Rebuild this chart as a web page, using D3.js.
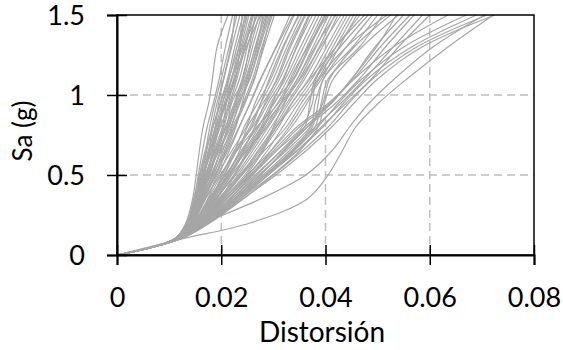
<!DOCTYPE html>
<html><head><meta charset="utf-8">
<script src="https://cdn.jsdelivr.net/npm/d3@7"></script>
<style>
html,body{margin:0;padding:0;background:#fff;}
svg{display:block;font-family:Lato,"Open Sans",sans-serif;}
</style></head>
<body><svg id="c" width="563" height="350"></svg>
<script>
// Sa levels (g) at which every IDA curve is sampled
const saLevels = [0, 0.1, 0.2, 0.35, 0.5, 0.65, 0.8, 0.95, 1.1, 1.3, 1.5];
// Drift values of each curve at the Sa levels above (first value 0 at Sa 0)
const curves = [
 [0,.0110,.0132,.0145,.0152,.0158,.0165,.0176,.0183,.0192,.0213],
 [0,.0110,.0135,.0148,.0156,.0164,.0173,.0185,.0196,.0208,.0222],
 [0,.0111,.0134,.0150,.0162,.0170,.0178,.0188,.0200,.0215,.0230],
 [0,.0110,.0136,.0152,.0160,.0175,.0188,.0195,.0205,.0220,.0236],
 [0,.0112,.0138,.0155,.0168,.0176,.0184,.0198,.0212,.0226,.0242],
 [0,.0111,.0135,.0151,.0165,.0180,.0195,.0203,.0215,.0230,.0248],
 [0,.0110,.0137,.0156,.0172,.0183,.0190,.0208,.0224,.0238,.0253],
 [0,.0112,.0140,.0159,.0170,.0186,.0202,.0210,.0220,.0240,.0258],
 [0,.0111,.0139,.0154,.0166,.0182,.0198,.0216,.0230,.0246,.0262],
 [0,.0110,.0136,.0158,.0175,.0190,.0205,.0218,.0235,.0250,.0268],
 [0,.0112,.0141,.0162,.0178,.0193,.0209,.0225,.0240,.0256,.0273],
 [0,.0111,.0138,.0153,.0169,.0188,.0210,.0220,.0243,.0260,.0278],
 [0,.0110,.0142,.0164,.0183,.0198,.0214,.0230,.0248,.0265,.0283],
 [0,.0113,.0140,.0160,.0174,.0196,.0218,.0236,.0250,.0270,.0288],
 [0,.0111,.0143,.0166,.0186,.0203,.0220,.0234,.0255,.0274,.0293],
 [0,.0112,.0139,.0157,.0180,.0200,.0225,.0242,.0260,.0278,.0298],
 [0,.0110,.0144,.0168,.0189,.0208,.0226,.0246,.0263,.0282,.0302],
 [0,.0112,.0141,.0163,.0182,.0199,.0212,.0228,.0242,.0254,.0265],
 [0,.0111,.0137,.0150,.0159,.0172,.0182,.0192,.0204,.0218,.0226],
 [0,.0113,.0142,.0165,.0190,.0210,.0228,.0240,.0252,.0268,.0280],
 [0,.0111,.0139,.0156,.0174,.0185,.0196,.0206,.0220,.0242,.0270],
 [0,.0110,.0138,.0152,.0163,.0178,.0192,.0209,.0228,.0236,.0245],
 [0,.0110,.0135,.0150,.0166,.0179,.0194,.0210,.0226,.0244,.0260],
 [0,.0111,.0137,.0154,.0170,.0188,.0208,.0226,.0246,.0266,.0286],
 [0,.0112,.0140,.0160,.0177,.0192,.0204,.0214,.0226,.0248,.0276],
 [0,.0110,.0134,.0147,.0158,.0169,.0184,.0199,.0214,.0234,.0250],
 [0,.0111,.0138,.0156,.0173,.0194,.0215,.0232,.0254,.0272,.0290],
 [0,.0112,.0141,.0161,.0184,.0206,.0222,.0244,.0264,.0280,.0295],
 [0,.0111,.0136,.0153,.0164,.0176,.0189,.0202,.0219,.0234,.0240],
 [0,.0113,.0143,.0166,.0188,.0212,.0234,.0256,.0276,.0306,.0338],
 [0,.0113,.0145,.0170,.0195,.0215,.0235,.0255,.0275,.0305,.0332],
 [0,.0112,.0146,.0174,.0192,.0220,.0248,.0265,.0286,.0312,.0340],
 [0,.0114,.0148,.0178,.0205,.0226,.0244,.0270,.0295,.0320,.0348],
 [0,.0112,.0144,.0169,.0198,.0228,.0255,.0276,.0300,.0326,.0355],
 [0,.0113,.0150,.0182,.0210,.0235,.0250,.0280,.0308,.0333,.0362],
 [0,.0114,.0152,.0180,.0202,.0224,.0260,.0286,.0312,.0340,.0368],
 [0,.0112,.0147,.0176,.0208,.0240,.0265,.0290,.0318,.0345,.0375],
 [0,.0115,.0154,.0186,.0216,.0244,.0272,.0295,.0323,.0352,.0382],
 [0,.0113,.0149,.0183,.0212,.0238,.0270,.0302,.0328,.0358,.0388],
 [0,.0114,.0153,.0190,.0224,.0250,.0278,.0308,.0335,.0364,.0394],
 [0,.0112,.0148,.0175,.0200,.0230,.0268,.0310,.0340,.0370,.0400],
 [0,.0115,.0156,.0192,.0220,.0256,.0285,.0314,.0346,.0376,.0406],
 [0,.0113,.0151,.0188,.0228,.0260,.0290,.0320,.0350,.0382,.0412],
 [0,.0114,.0155,.0196,.0232,.0265,.0296,.0326,.0356,.0388,.0418],
 [0,.0116,.0160,.0200,.0238,.0270,.0302,.0330,.0360,.0394,.0424],
 [0,.0113,.0152,.0190,.0225,.0254,.0280,.0316,.0352,.0390,.0430],
 [0,.0115,.0158,.0204,.0245,.0278,.0310,.0336,.0368,.0402,.0436],
 [0,.0114,.0154,.0194,.0235,.0272,.0305,.0342,.0374,.0408,.0442],
 [0,.0116,.0162,.0210,.0252,.0288,.0318,.0348,.0380,.0414,.0448],
 [0,.0115,.0159,.0202,.0240,.0282,.0325,.0354,.0386,.0420,.0454],
 [0,.0117,.0165,.0216,.0260,.0295,.0330,.0360,.0392,.0426,.0460],
 [0,.0114,.0156,.0198,.0238,.0275,.0306,.0335,.0370,.0420,.0466],
 [0,.0113,.0150,.0185,.0214,.0242,.0264,.0284,.0306,.0330,.0360],
 [0,.0114,.0153,.0189,.0218,.0246,.0276,.0298,.0320,.0344,.0370],
 [0,.0115,.0157,.0198,.0226,.0252,.0282,.0300,.0338,.0368,.0398],
 [0,.0113,.0151,.0181,.0206,.0229,.0258,.0276,.0292,.0318,.0350],
 [0,.0116,.0161,.0206,.0248,.0280,.0300,.0322,.0346,.0380,.0420],
 [0,.0112,.0149,.0179,.0214,.0248,.0288,.0315,.0332,.0366,.0404],
 [0,.0118,.0165,.0215,.0265,.0315,.0360,.0370,.0380,.0420,.0475],
 [0,.0119,.0168,.0225,.0280,.0330,.0372,.0380,.0396,.0440,.0490],
 [0,.0117,.0162,.0210,.0258,.0305,.0355,.0375,.0382,.0428,.0482],
 [0,.0120,.0172,.0230,.0290,.0340,.0380,.0392,.0405,.0465,.0510],
 [0,.0118,.0166,.0220,.0272,.0324,.0370,.0395,.0408,.0455,.0525],
 [0,.0120,.0175,.0236,.0298,.0350,.0386,.0398,.0415,.0470,.0540],
 [0,.0119,.0170,.0228,.0284,.0335,.0375,.0386,.0396,.0452,.0500],
 [0,.0117,.0160,.0205,.0250,.0295,.0335,.0365,.0388,.0440,.0518],
 [0,.0118,.0166,.0215,.0260,.0305,.0350,.0410,.0450,.0495,.0550],
 [0,.0119,.0170,.0224,.0275,.0320,.0365,.0420,.0465,.0515,.0570],
 [0,.0120,.0174,.0230,.0285,.0335,.0380,.0430,.0475,.0530,.0586],
 [0,.0117,.0164,.0210,.0255,.0300,.0345,.0406,.0454,.0505,.0562],
 [0,.0120,.0176,.0235,.0290,.0345,.0392,.0440,.0488,.0540,.0600],
 [0,.0118,.0168,.0220,.0268,.0314,.0360,.0412,.0450,.0498,.0536],
 [0,.0120,.0170,.0225,.0275,.0320,.0365,.0410,.0455,.0530,.0635],
 [0,.0121,.0174,.0235,.0290,.0338,.0385,.0425,.0470,.0550,.0670],
 [0,.0120,.0172,.0230,.0285,.0345,.0395,.0435,.0480,.0565,.0690],
 [0,.0122,.0178,.0242,.0300,.0355,.0405,.0445,.0490,.0575,.0710],
 [0,.0121,.0176,.0240,.0305,.0362,.0412,.0455,.0500,.0585,.0725],
 [0,.0124,.0255,.0365,.0405,.0432,.0458,.0502,.0556,.0635,.0722],
 [0,.0120,.0170,.0275,.0362,.0412,.0446,.0484,.0532,.0606,.0705]
];
const xTicks = [0, 0.02, 0.04, 0.06, 0.08];
const yTicks = [0, 0.5, 1, 1.5];
const xTickLabels = ["0", "0.02", "0.04", "0.06", "0.08"];
const yTickLabels = ["0", "0.5", "1", "1.5"];
const xTitle = "Distorsión";
const yTitle = "Sa (g)";

const svg = d3.select("#c");
const L = 117, R = 534, T = 15, B = 255;
const x = d3.scaleLinear().domain([0, 0.08]).range([L, R]);
const y = d3.scaleLinear().domain([0, 1.5]).range([B, T]);

// grid
const g = svg.append("g");
g.selectAll(".gx").data(xTicks.filter(d => d > 0 && d < 0.08)).join("line")
  .attr("x1", d => x(d)).attr("x2", d => x(d)).attr("y1", T).attr("y2", B)
  .attr("stroke", "#bfbfbf").attr("stroke-width", 1.5).attr("stroke-dasharray", "8,5");
g.selectAll(".gy").data(yTicks.filter(d => d > 0 && d < 1.5)).join("line")
  .attr("x1", L).attr("x2", R).attr("y1", d => y(d)).attr("y2", d => y(d))
  .attr("stroke", "#bfbfbf").attr("stroke-width", 1.5).attr("stroke-dasharray", "8,5");

// curves
const line = d3.line().x(d => x(d[0])).y(d => y(d[1])).curve(d3.curveCatmullRom.alpha(0.5));
svg.append("g").selectAll("path").data(curves).join("path")
  .attr("d", c => line(c.map((v, i) => [v, saLevels[i]])))
  .attr("fill", "none").attr("stroke", "#a6a6a6").attr("stroke-width", 1.2);

// frame
svg.append("rect").attr("x", L).attr("y", T).attr("width", R - L).attr("height", B - T)
  .attr("fill", "none").attr("stroke", "#000").attr("stroke-width", 1.5);

// axes
const xAxis = d3.axisBottom(x).tickValues(xTicks).tickSize(10).tickFormat((d, i) => xTickLabels[i]);
const xa = svg.append("g").attr("transform", `translate(0,${B})`).call(xAxis);
const yAxis = d3.axisLeft(y).tickValues(yTicks).tickSize(10).tickFormat((d, i) => yTickLabels[i]);
const ya = svg.append("g").attr("transform", `translate(${L},0)`).call(yAxis);
[xa, ya].forEach(a => {
  a.select(".domain").attr("stroke", "#000").attr("stroke-width", 2);
  a.selectAll(".tick line").attr("stroke", "#000").attr("stroke-width", 1.5);
  a.selectAll("text").attr("fill", "#000").style("font-family", "Lato").style("font-size", "27px");
});
xa.selectAll(".tick line").attr("y1", -10);
xa.selectAll(".tick text").attr("y", 0).attr("dy", 0).attr("transform", "translate(0,51.5)");
ya.selectAll(".tick line").attr("x2", 10).attr("x1", -10);
ya.selectAll(".tick text").attr("x", -32).attr("dy", "0.36em");

svg.append("text").attr("x", 322).attr("y", 342).attr("text-anchor", "middle")
  .style("font-size", "28px").attr("fill", "#000").text(xTitle);
svg.append("text").attr("transform", "translate(32,131) rotate(-90)").attr("text-anchor", "middle")
  .style("font-size", "26px").attr("fill", "#000").text(yTitle);
</script></body></html>
